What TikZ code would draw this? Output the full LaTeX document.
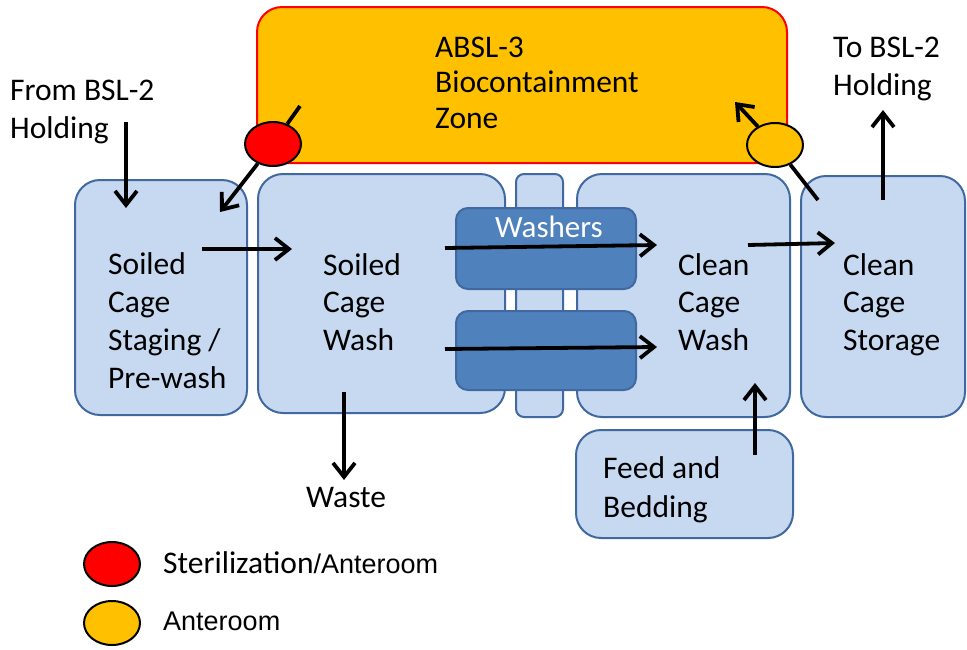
\documentclass[tikz,border=0pt]{standalone}
\usepackage{fontspec}
\setmainfont{Carlito}
\newfontfamily\legendfont{Liberation Sans}
\usepackage{tikz}
\usetikzlibrary{arrows.meta,shapes.geometric}
\definecolor{roomfill}{RGB}{198,217,241}
\definecolor{roomline}{RGB}{65,105,160}
\definecolor{washfill}{RGB}{79,129,189}
\definecolor{zonefill}{RGB}{255,192,0}
\tikzstyle{room} = [draw=roomline, fill=roomfill, line width=2pt, rounded corners=25pt, inner sep=0pt]
\tikzstyle{washer} = [draw=roomline, fill=washfill, line width=2pt, rounded corners=12pt, inner sep=0pt]
\tikzstyle{lock} = [ellipse, draw=black, line width=2pt, minimum width=56pt, minimum height=44pt, inner sep=0pt]
\tikzstyle{lbl} = [anchor=base west, align=left, inner sep=0pt, font=\fontsize{31.5}{37.7}\selectfont]
\tikzstyle{flow} = [-{Straight Barb[length=14pt,width=22pt]}, line width=3.8pt]

\begin{document}
\begin{tikzpicture}[x=1pt,y=-1pt]
			\useasboundingbox (0,0) rectangle (967,649);
			% containment zone
			\node[draw=red, fill=zonefill, line width=2pt, rounded corners=25pt, minimum width=530pt, minimum height=156pt] (zone) at (522,85) {};
			\node[lbl, font=\fontsize{31.5}{35.5}\selectfont] (zoneTxt) at (435,128) {ABSL-3\\Biocontainment\\Zone};
			% rooms
			\node[room, minimum width=172pt, minimum height=235pt] (staging) at (161,297.5) {};
			\node[room, minimum width=247pt, minimum height=239pt] (soiled) at (381.5,293.5) {};
			\node[room, minimum width=213pt, minimum height=243pt] (clean) at (683.5,295.5) {};
			\node[room, rounded corners=8pt, minimum width=47pt, minimum height=243pt] (column) at (539.5,295.5) {};
			\node[room, minimum width=164pt, minimum height=241pt] (storage) at (883,296.5) {};
			\node[room, minimum width=217pt, minimum height=108pt] (feed) at (684.5,484) {};
			\node[washer, minimum width=180pt, minimum height=81pt] (washerA) at (546,248.5) {};
			\node[washer, minimum width=180pt, minimum height=79pt] (washerB) at (546,350.5) {};
			\node[anchor=base, inner sep=0pt, text=white, font=\fontsize{31}{34}\selectfont] (washTxt) at (549,237) {Washers};
			% texts
			\node[lbl] (stagingTxt) at (108,388) {Soiled\\Cage\\Staging /\\Pre-wash};
			\node[lbl] (soiledTxt) at (323,350.4) {Soiled\\Cage\\Wash};
			\node[lbl] (cleanTxt) at (678,350.4) {Clean\\Cage\\Wash};
			\node[lbl] (storageTxt) at (843,350.4) {Clean\\Cage\\Storage};
			\node[lbl, font=\fontsize{31.5}{39}\selectfont] (feedTxt) at (603,517) {Feed and\\Bedding};
			\node[lbl, font=\fontsize{31.5}{38}\selectfont] (fromTxt) at (10,138) {From BSL-2\\Holding};
			\node[lbl, font=\fontsize{31.5}{38}\selectfont] (toTxt) at (833,95) {To BSL-2\\Holding};
			\node[lbl] (wasteTxt) at (306,507) {Waste};
			% flow
			\coordinate (fromEnd) at (126,122);
			\coordinate (stagingIn) at (126,208);
			\coordinate (stagingOut) at (202,249);
			\coordinate (soiledIn) at (292,249);
			\coordinate (soiledOutA) at (445,248);
			\coordinate (cleanInA) at (657,245);
			\coordinate (soiledOutB) at (445,349);
			\coordinate (cleanInB) at (657,347);
			\coordinate (cleanOut) at (748,245);
			\coordinate (storageIn) at (835,243);
			\coordinate (storageOut) at (883,200);
			\coordinate (toEnd) at (883,110);
			\coordinate (feedOut) at (755,455);
			\coordinate (cleanInC) at (755,383);
			\coordinate (soiledOutC) at (344,392);
			\coordinate (wasteEnd) at (344,480);
			\coordinate (zoneOut) at (300,106);
			\coordinate (stagingInB) at (220,212);
			\coordinate (storageOutB) at (818,200);
			\coordinate (zoneIn) at (735,102);
			\draw[flow] (fromEnd) -- (stagingIn);
			\draw[flow] (stagingOut) -- (soiledIn);
			\draw[flow] (soiledOutA) -- (cleanInA);
			\draw[flow] (soiledOutB) -- (cleanInB);
			\draw[flow] (cleanOut) -- (storageIn);
			\draw[flow] (storageOut) -- (toEnd);
			\draw[flow] (feedOut) -- (cleanInC);
			\draw[flow] (soiledOutC) -- (wasteEnd);
			% anterooms
			\node[lock, fill=red] (sterRoom) at (273,144) {};
			\node[lock, fill=zonefill] (anteRoom) at (775,145) {};
			\draw[line width=3.8pt] (zoneOut) -- (sterRoom);
			\draw[flow] (sterRoom) -- (stagingInB);
			\draw[line width=3.8pt] (storageOutB) -- (anteRoom);
			\draw[flow] (anteRoom) -- (zoneIn);
			% legend
			\node[lock, fill=red] (keyRed) at (112,564) {};
			\node[lock, fill=zonefill] (keyYellow) at (112,623) {};
			\node[anchor=base west, inner sep=0pt, font=\fontsize{31.5}{34}\selectfont] (keyRedTxt) at (163,573) {Sterilization{\legendfont\fontsize{27}{30}\selectfont/Anteroom}};
			\node[anchor=base west, inner sep=0pt, font=\legendfont\fontsize{27}{30}\selectfont] (keyYellowTxt) at (163,630) {Anteroom};
		\end{tikzpicture}
\end{document}
